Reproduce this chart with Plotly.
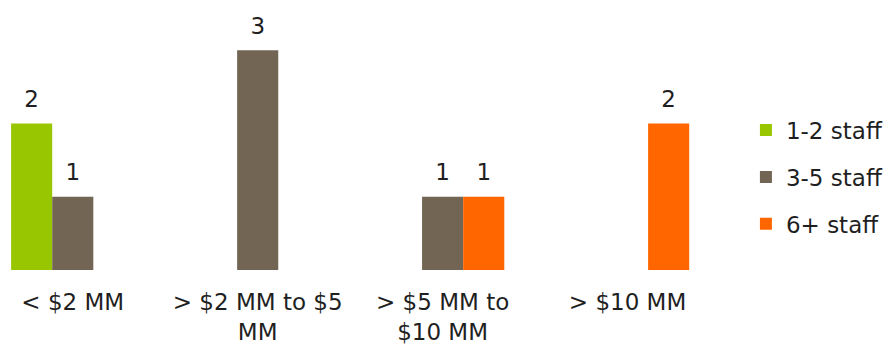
import plotly.graph_objects as go

categories = ["< $2 MM", "> $2 MM to $5<br>MM", "> $5 MM to<br>$10 MM", "> $10 MM"]
series_names = ["1-2 staff", "3-5 staff", "6+ staff"]
staff_1_2 = [2, None, None, None]
staff_3_5 = [1, 3, 1, None]
staff_6p = [None, None, 1, 2]
colors = ["#98C600", "#726553", "#FF6600"]

FONT = "DejaVu Sans"
TXT = "#1f1f1f"
FS = 23

fig = go.Figure()
for i, (name, vals) in enumerate(zip(series_names, [staff_1_2, staff_3_5, staff_6p])):
    fig.add_trace(go.Bar(
        x=categories, y=vals, name=name,
        marker=dict(color=colors[i], line=dict(width=0)),
        text=[("" if v is None else str(v)) for v in vals],
        texttemplate="<span style='font-size:23px'>%{text}</span><br> ",
        textposition="outside",
        textfont=dict(size=9, color=TXT, family=FONT),
        cliponaxis=False,
        legendgroup=name,
    ))

fig.update_layout(
    width=888, height=350,
    margin=dict(l=0, r=163, t=21, b=80),
    paper_bgcolor="white", plot_bgcolor="white",
    barmode="group", bargap=0.333, bargroupgap=0,
    font=dict(family=FONT, size=FS, color=TXT),
    showlegend=True,
    legend=dict(x=1.036, xanchor="left", y=0.373, yanchor="middle",
                traceorder="grouped", tracegroupgap=14,
                font=dict(size=FS, color=TXT, family=FONT),
                itemwidth=30),
    xaxis=dict(range=[-0.3935, 3.5], showgrid=False, zeroline=False,
               showline=False, ticks="", ticklabelstandoff=16,
               tickfont=dict(size=FS, color=TXT)),
    yaxis=dict(range=[0, 3.4], visible=False, showgrid=False, zeroline=False),
)

fig.write_html("out.html")
